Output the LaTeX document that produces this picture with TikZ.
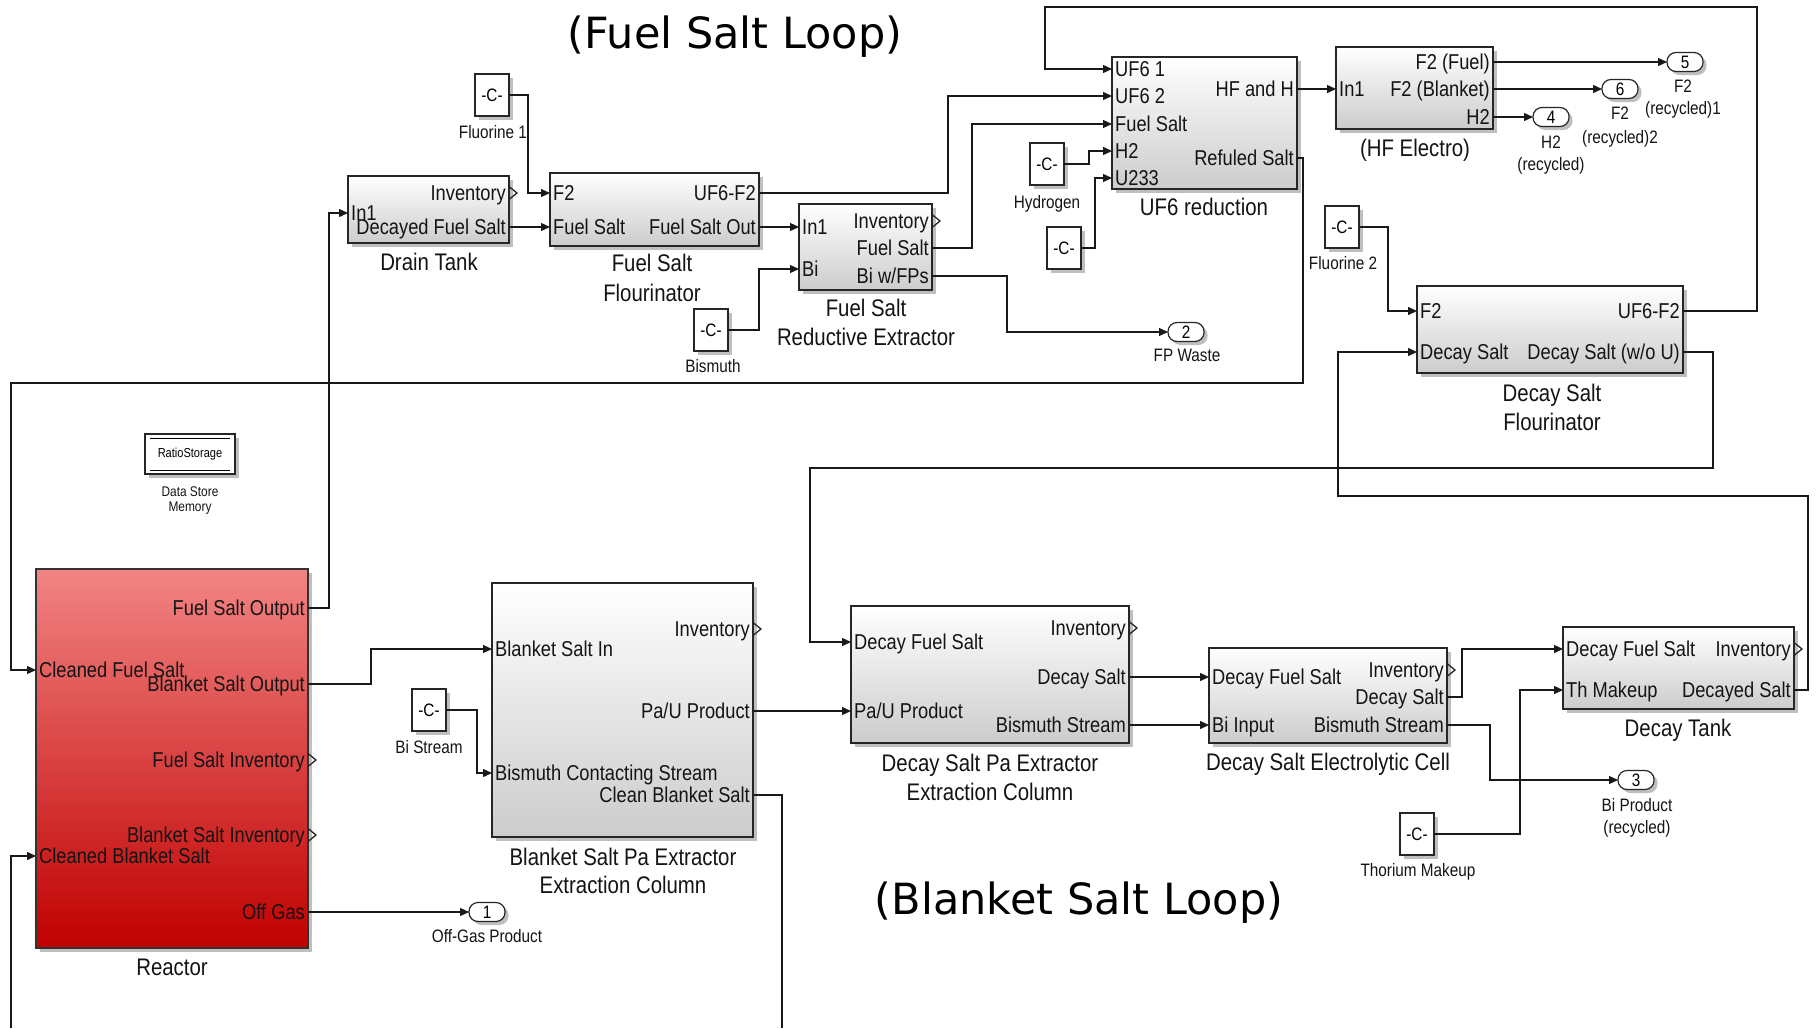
\documentclass[tikz,border=0pt]{standalone}
\usepackage{fontspec}
\usetikzlibrary{arrows.meta,shadows}
\newfontfamily\slfont{Liberation Sans}[FakeStretch=0.85]
\newfontfamily\ttlfont{DejaVu Sans}
\definecolor{txt}{gray}{0.08}
\definecolor{redtop}{RGB}{242,132,132}
\definecolor{redbot}{RGB}{192,0,0}
\newcommand\pfont{\slfont\fontsize{21.5}{24}\selectfont}
\newcommand\bfontx{\slfont\fontsize{24}{27}\selectfont}
\newcommand\sfontx{\slfont\fontsize{18}{21}\selectfont}
\tikzset{
  shd/.style={drop shadow={shadow xshift=3.5pt, shadow yshift=-3.5pt, fill=black!45, opacity=.55}},
  blk/.style={draw=black!85, line width=1.3pt, top color=white, bottom color=black!20, inner sep=0pt, outer sep=0pt, anchor=north west, shd},
  reactorblk/.style={draw=black!80, line width=1.3pt, top color=redtop, bottom color=redbot, inner sep=0pt, outer sep=0pt, anchor=north west, shd},
  cbox/.style={draw=black!85, line width=1.2pt, fill=white, minimum width=34pt, minimum height=42pt, inner sep=0pt, outer sep=0pt, anchor=north west, font=\sfontx, shd},
  outp/.style={draw=black!85, line width=1.2pt, fill=white, rounded corners=9pt, minimum width=36pt, minimum height=19pt, inner sep=0pt, outer sep=0pt, font=\sfontx, shd},
  dsmbox/.style={draw=black!85, line width=1.2pt, fill=white, minimum width=90pt, minimum height=40pt, inner sep=0pt, outer sep=0pt, font=\slfont\fontsize{13}{14}\selectfont, shd},
  pinl/.style={anchor=base west, xshift=3pt, yshift=-7.6pt, inner sep=0pt, font=\pfont, text=txt},
  poutl/.style={anchor=base east, xshift=-3pt, yshift=-7.6pt, inner sep=0pt, font=\pfont, text=txt},
  blabel/.style={anchor=base, yshift=-8.6pt, inner sep=0pt, font=\bfontx, text=txt},
  slabel/.style={anchor=base, yshift=-6.4pt, inner sep=0pt, font=\sfontx, text=txt},
  tlabel/.style={anchor=base, yshift=-6pt, inner sep=0pt, font=\slfont\fontsize{14}{16}\selectfont, text=txt},
  chev/.style={line width=1.3pt, black!85},
  conn/.style={line width=1.3pt, black!90, -{Triangle[length=9pt,width=8pt]}},
  wire/.style={line width=1.3pt, black!90},
  ttl/.style={inner sep=0pt, font=\ttlfont\fontsize{43}{46}\selectfont, text=black}
}
\newcommand\pin[4]{\coordinate (#1) at (#2,#3);\node[pinl] (#1l) at (#2,#3) {#4};}
\newcommand\pout[4]{\coordinate (#1) at (#2,#3);\node[poutl] (#1l) at (#2,#3) {#4};}
\newcommand\pchev[4]{\pout{#1}{#2}{#3}{#4}\draw[chev] ([shift={(0,-6.5)}]#1) -- ([shift={(8,0)}]#1) -- ([shift={(0,6.5)}]#1);}
\newcommand\blab[4]{\node[blabel] (#1) at (#2,#3) {#4};}
\newcommand\slab[4]{\node[slabel] (#1) at (#2,#3) {#4};}
\begin{document}
\begin{tikzpicture}[x=1pt,y=-1pt]
\useasboundingbox[fill=white] (0,0) rectangle (1820,1028);

% titles
\node[ttl] (title1) at (735,37) {(Fuel Salt Loop)};
\node[ttl] (title2) at (1079,903) {(Blanket Salt Loop)};

% ---------------- blocks ----------------
\node[blk, minimum width=161pt, minimum height=67pt] (dt) at (348,176) {};
\node[blk, minimum width=209pt, minimum height=73pt] (fsf) at (550,173) {};
\node[blk, minimum width=133pt, minimum height=86pt] (fsre) at (799,204) {};
\node[blk, minimum width=185pt, minimum height=132pt] (uf6) at (1112,57) {};
\node[blk, minimum width=157pt, minimum height=82pt] (hfe) at (1336,47) {};
\node[blk, minimum width=266pt, minimum height=87pt] (dsf) at (1417,286) {};
\node[reactorblk, minimum width=272pt, minimum height=379pt] (rx) at (36,569) {};
\node[blk, minimum width=261pt, minimum height=254pt] (bspa) at (492,583) {};
\node[blk, minimum width=278pt, minimum height=137pt] (dspa) at (851,606) {};
\node[blk, minimum width=238pt, minimum height=95pt] (dsec) at (1209,648) {};
\node[blk, minimum width=231pt, minimum height=82pt] (dtk) at (1563,627) {};

% data store memory
\node[dsmbox] (dsm) at (190,454) {RatioStorage};
\draw[line width=1pt] ([shift={(5,4)}]dsm.north west) -- ([shift={(-5,4)}]dsm.north east);
\draw[line width=1pt] ([shift={(5,-4)}]dsm.south west) -- ([shift={(-5,-4)}]dsm.south east);
\node[tlabel] (dsml1) at (190,490) {Data Store};
\node[tlabel] (dsml2) at (190,505) {Memory};

% ---------------- ports ----------------
\pin{dt-i1}{348}{213}{In1}
\pchev{dt-o1}{509}{193}{Inventory}
\pout{dt-o2}{509}{227}{Decayed Fuel Salt}

\pin{fsf-i1}{550}{193}{F2}
\pin{fsf-i2}{550}{227}{Fuel Salt}
\pout{fsf-o1}{759}{193}{UF6-F2}
\pout{fsf-o2}{759}{227}{Fuel Salt Out}

\pin{fsre-i1}{799}{227}{In1}
\pin{fsre-i2}{799}{269}{Bi}
\pchev{fsre-o1}{932}{221}{Inventory}
\pout{fsre-o2}{932}{248}{Fuel Salt}
\pout{fsre-o3}{932}{276}{Bi w/FPs}

\pin{uf6-i1}{1112}{69}{UF6 1}
\pin{uf6-i2}{1112}{96}{UF6 2}
\pin{uf6-i3}{1112}{124}{Fuel Salt}
\pin{uf6-i4}{1112}{151}{H2}
\pin{uf6-i5}{1112}{178}{U233}
\pout{uf6-o1}{1297}{89}{HF and H}
\pout{uf6-o2}{1297}{158}{Refuled Salt}

\pin{hfe-i1}{1336}{89}{In1}
\pout{hfe-o1}{1493}{62}{F2 (Fuel)}
\pout{hfe-o2}{1493}{89}{F2 (Blanket)}
\pout{hfe-o3}{1493}{117}{H2}

\pin{dsf-i1}{1417}{311}{F2}
\pin{dsf-i2}{1417}{352}{Decay Salt}
\pout{dsf-o1}{1683}{311}{UF6-F2}
\pout{dsf-o2}{1683}{352}{Decay Salt (w/o U)}

\pin{rx-i1}{36}{670}{Cleaned Fuel Salt}
\pin{rx-i2}{36}{856}{Cleaned Blanket Salt}
\pout{rx-o1}{308}{608}{Fuel Salt Output}
\pout{rx-o2}{308}{684}{Blanket Salt Output}
\pchev{rx-o3}{308}{760}{Fuel Salt Inventory}
\pchev{rx-o4}{308}{835}{Blanket Salt Inventory}
\pout{rx-o5}{308}{912}{Off Gas}

\pin{bspa-i1}{492}{649}{Blanket Salt In}
\pin{bspa-i2}{492}{773}{Bismuth Contacting Stream}
\pchev{bspa-o1}{753}{629}{Inventory}
\pout{bspa-o2}{753}{711}{Pa/U Product}
\pout{bspa-o3}{753}{795}{Clean Blanket Salt}

\pin{dspa-i1}{851}{642}{Decay Fuel Salt}
\pin{dspa-i2}{851}{711}{Pa/U Product}
\pchev{dspa-o1}{1129}{628}{Inventory}
\pout{dspa-o2}{1129}{677}{Decay Salt}
\pout{dspa-o3}{1129}{725}{Bismuth Stream}

\pin{dsec-i1}{1209}{677}{Decay Fuel Salt}
\pin{dsec-i2}{1209}{725}{Bi Input}
\pchev{dsec-o1}{1447}{670}{Inventory}
\pout{dsec-o2}{1447}{697}{Decay Salt}
\pout{dsec-o3}{1447}{725}{Bismuth Stream}

\pin{dtk-i1}{1563}{649}{Decay Fuel Salt}
\pin{dtk-i2}{1563}{690}{Th Makeup}
\pchev{dtk-o1}{1794}{649}{Inventory}
\pout{dtk-o2}{1794}{690}{Decayed Salt}

% ---------------- block labels ----------------
\blab{dtl}{429}{262}{Drain Tank}
\blab{fsfl1}{652}{263}{Fuel Salt}
\blab{fsfl2}{652}{293}{Flourinator}
\blab{fsrel1}{866}{308}{Fuel Salt}
\blab{fsrel2}{866}{337}{Reductive Extractor}
\blab{uf6l}{1204}{207}{UF6 reduction}
\blab{hfel}{1415}{148}{(HF Electro)}
\blab{dsfl1}{1552}{393}{Decay Salt}
\blab{dsfl2}{1552}{422}{Flourinator}
\blab{rxl}{172}{967}{Reactor}
\blab{bspal1}{623}{857}{Blanket Salt Pa Extractor}
\blab{bspal2}{623}{885}{Extraction Column}
\blab{dspal1}{990}{763}{Decay Salt Pa Extractor}
\blab{dspal2}{990}{792}{Extraction Column}
\blab{dsecl}{1328}{762}{Decay Salt Electrolytic Cell}
\blab{dtkl}{1678}{728}{Decay Tank}

% ---------------- constants ----------------
\node[cbox] (cf1) at (475,74) {-C-};
\node[cbox] (cbi) at (694,309) {-C-};
\node[cbox] (ch2) at (1030,143) {-C-};
\node[cbox] (cu) at (1047,227) {-C-};
\node[cbox] (cf2) at (1325,206) {-C-};
\node[cbox] (cbs) at (412,689) {-C-};
\node[cbox] (cth) at (1400,813) {-C-};
\slab{cf1l}{493}{132}{Fluorine 1}
\slab{cbil}{713}{366}{Bismuth}
\slab{ch2l}{1047}{202}{Hydrogen}
\slab{cf2l}{1343}{263}{Fluorine 2}
\slab{cbsl}{429}{747}{Bi Stream}
\slab{cthl}{1418}{870}{Thorium Makeup}

% ---------------- outports ----------------
\node[outp] (o1) at (487,912) {1};
\node[outp] (o2) at (1186,332) {2};
\node[outp] (o3) at (1636,780) {3};
\node[outp] (o4) at (1551,117) {4};
\node[outp] (o5) at (1685,62) {5};
\node[outp] (o6) at (1620,89) {6};
\slab{o1l}{487}{936}{Off-Gas Product}
\slab{o2l}{1187}{355}{FP Waste}
\slab{o3l1}{1637}{805}{Bi Product}
\slab{o3l2}{1637}{827}{(recycled)}
\slab{o4l1}{1551}{142}{H2}
\slab{o4l2}{1551}{164}{(recycled)}
\slab{o5l1}{1683}{86}{F2}
\slab{o5l2}{1683}{108}{(recycled)1}
\slab{o6l1}{1620}{113}{F2}
\slab{o6l2}{1620}{137}{(recycled)2}

% ---------------- connectors ----------------
\draw[conn] (cf1.east) -| (528,193) -- (fsf-i1);
\draw[conn] (dt-o2) -- (fsf-i2);
\draw[conn] (fsf-o2) -- (fsre-i1);
\draw[conn] (fsf-o1) -| (948,96) -- (uf6-i2);
\draw[conn] (cbi.east) -| (759,269) -- (fsre-i2);
\draw[conn] (fsre-o2) -| (972,124) -- (uf6-i3);
\draw[conn] (fsre-o3) -| (1007,332) -- (o2.west);
\draw[conn] (ch2.east) -| (1089,151) -- (uf6-i4);
\draw[conn] (cu.east) -| (1095,178) -- (uf6-i5);
\draw[conn] (uf6-o1) -- (hfe-i1);
\draw[conn] (hfe-o1) -- (o5.west);
\draw[conn] (hfe-o2) -- (o6.west);
\draw[conn] (hfe-o3) -- (o4.west);
\draw[conn] (uf6-o2) -| (1303,383) -| (11,670) -- (rx-i1);
\draw[conn] (dsf-o1) -| (1757,7) -| (1045,69) -- (uf6-i1);
\draw[conn] (cf2.east) -| (1388,311) -- (dsf-i1);
\draw[conn] (dtk-o2) -| (1808,496) -| (1338,352) -- (dsf-i2);
\draw[conn] (dsf-o2) -| (1713,468) -| (810,642) -- (dspa-i1);
\draw[conn] (rx-o1) -| (329,213) -- (dt-i1);
\draw[conn] (rx-o2) -| (371,649) -- (bspa-i1);
\draw[conn] (cbs.east) -| (477,773) -- (bspa-i2);
\draw[conn] (rx-o5) -- (o1.west);
\draw[conn] (bspa-o2) -- (dspa-i2);
\coordinate (cbsend) at (782,1028);
\draw[wire] (bspa-o3) -| (cbsend);
\coordinate (cblstart) at (11,1028);
\draw[conn] (cblstart) |- (rx-i2);
\draw[conn] (dspa-o2) -- (dsec-i1);
\draw[conn] (dspa-o3) -- (dsec-i2);
\draw[conn] (dsec-o2) -| (1462,649) -- (dtk-i1);
\draw[conn] (dsec-o3) -| (1490,780) -- (o3.west);
\draw[conn] (cth.east) -| (1520,690) -- (dtk-i2);
\end{tikzpicture}
\end{document}
